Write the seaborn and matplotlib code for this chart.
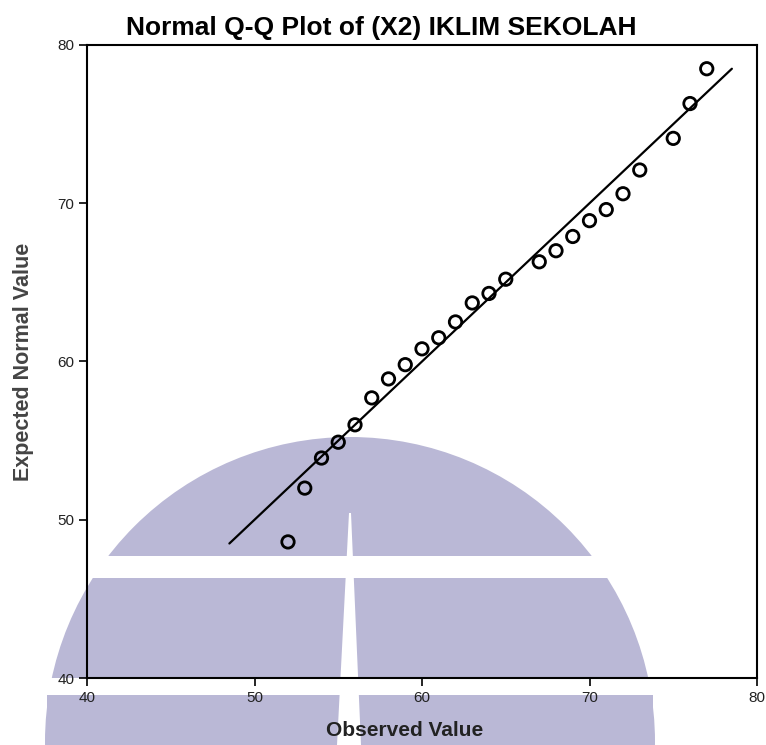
import matplotlib
matplotlib.use("Agg")
import matplotlib.pyplot as plt
import seaborn as sns
import pandas as pd
from matplotlib.patches import Circle, Rectangle, Polygon

# ---- data ----
observed = [52, 53, 54, 55, 56, 57, 58, 59, 60, 61, 62, 63, 64, 65,
            67, 68, 69, 70, 71, 72, 73, 75, 76, 77]
expected = [48.6, 52.0, 53.9, 54.9, 56.0, 57.7, 58.9, 59.8, 60.8, 61.5, 62.5, 63.7,
            64.3, 65.2, 66.3, 67.0, 67.9, 68.9, 69.6, 70.6, 72.1, 74.1, 76.3, 78.5]
ref_line = [48.5, 78.5]
x_ticks = [40, 50, 60, 70, 80]
y_ticks = [40, 50, 60, 70, 80]
title = "Normal Q-Q Plot of (X2) IKLIM SEKOLAH"
x_label = "Observed Value"
y_label = "Expected Normal Value"

sns.set_theme(style="white")
plt.rcParams['font.family'] = ['Liberation Sans', 'DejaVu Sans']

W, H = 766, 745
fig = plt.figure(figsize=(W / 100, H / 100), dpi=100)
fig.patch.set_facecolor("white")

# ---- background watermark (decorative) ----
bg = fig.add_axes([0, 0, 1, 1], zorder=0)
bg.set_xlim(0, W)
bg.set_ylim(H, 0)
bg.axis("off")
wm = "#bab8d6"
bg.add_patch(Circle((350, 742), 305, color=wm, lw=0))
bg.add_patch(Rectangle((47, 695), 606, 60, color=wm, lw=0))
bg.add_patch(Rectangle((0, 556), W, 22, color="white", lw=0))
bg.add_patch(Rectangle((0, 678), W, 17, color="white", lw=0))
bg.add_patch(Polygon([(349, 513), (351, 513), (361, 745), (337, 745)], closed=True,
                     color="white", lw=0))

# ---- main axes ----
ax = fig.add_axes([87 / W, 1 - 678 / H, (757 - 87) / W, (678 - 45) / H], zorder=1)
ax.set_facecolor("none")

df = pd.DataFrame({"observed": observed, "expected": expected})
line_df = pd.DataFrame({"x": ref_line, "y": ref_line})

sns.lineplot(data=line_df, x="x", y="y", ax=ax, color="black", linewidth=1.6)
sns.scatterplot(data=df, x="observed", y="expected", ax=ax, marker="o",
                s=80, facecolors="none", edgecolor="black", linewidth=2.0, zorder=3)

ax.set_xlim(40, 80)
ax.set_ylim(40, 80)
ax.set_xticks(x_ticks)
ax.set_yticks(y_ticks)
ax.tick_params(axis="both", which="both", direction="out", length=6, width=1.2,
               color="black", labelsize=11, labelcolor="#222222",
               bottom=True, left=True, top=False, right=False, pad=3)
for s in ax.spines.values():
    s.set_color("black")
    s.set_linewidth(1.5)

ax.set_xlabel(x_label, fontsize=15, fontweight="bold", color="#222222")
ax.xaxis.set_label_coords((405 - 87) / 670, (678 - 730) / 633)
ax.xaxis.label.set_va("center")
ax.set_ylabel(y_label, fontsize=15.5, fontweight="bold", color="#444444")
ax.yaxis.set_label_coords((24 - 87) / 670, (678 - 362) / 633)
ax.yaxis.label.set_va("center")
fig.text(381 / W, 1 - 28 / H, title, ha="center", va="center",
         fontsize=19, fontweight="bold", color="black")

fig.savefig("out.png", dpi=100)
